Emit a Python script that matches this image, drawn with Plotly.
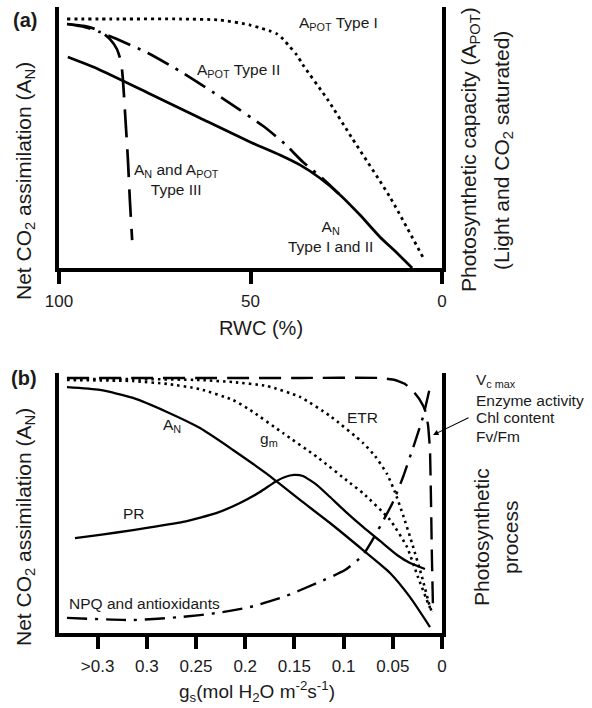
import plotly.graph_objects as go

# ---------------- Panel (a): RWC (%) ----------------
a_type1_rwc = [97.9, 84.1, 68.4, 58.0, 50.1, 47.5, 44.9, 43.1, 41.5, 39.7, 37.9, 36.3, 29.8, 23.5, 13.6, 5.0]
a_type1_val = [95.4, 95.4, 95.4, 95.0, 93.1, 92.0, 90.8, 89.7, 87.7, 84.7, 81.6, 77.8, 64.4, 49.8, 27.2, 4.2]

a_an_rwc = [97.7, 89.3, 76.2, 63.2, 50.1, 42.3, 37.1, 31.9, 26.6, 21.4, 16.2, 12.0, 7.8]
a_an_val = [80.8, 75.9, 66.7, 57.5, 48.3, 43.3, 39.5, 34.5, 28.0, 20.3, 11.9, 6.1, 0.0]

a_type2_rwc = [97.9, 93.2, 89.3, 84.9, 76.8, 67.6, 56.7, 46.7, 41.0, 36.3, 31.3, 26.6]
a_type2_val = [93.5, 92.3, 90.4, 87.7, 82.4, 74.7, 64.4, 54.4, 47.5, 40.6, 34.5, 28.0]

a_type3_rwc = [97.9, 93.2, 89.3, 86.7, 84.9, 83.8, 83.3, 82.8, 82.0, 81.5, 80.9]
a_type3_val = [93.5, 92.7, 90.8, 87.7, 83.9, 78.9, 72.0, 60.5, 41.4, 26.1, 10.7]

a_ticks = [100, 50, 0]
a_ticktext = ["100", "50", "0"]

# ---------------- Panel (b): gs ----------------
b_an_gs = [0.3811, 0.3476, 0.3140, 0.2795, 0.2459, 0.2124, 0.1779, 0.1443, 0.1138, 0.0803, 0.0528, 0.0325, 0.0122]
b_an_val = [94.6, 93.5, 90.4, 85.0, 78.8, 70.4, 61.2, 51.2, 42.3, 31.9, 23.1, 13.8, 2.3]

b_pr_gs = [0.3730, 0.3476, 0.3140, 0.2632, 0.2287, 0.2053, 0.1850, 0.1697, 0.1596, 0.1504, 0.1413,
           0.1270, 0.1138, 0.0986, 0.0803, 0.0630, 0.0457, 0.0325, 0.0173]
b_pr_val = [36.5, 37.7, 39.6, 42.7, 46.2, 50.0, 54.2, 58.1, 60.0, 60.8, 60.4,
            56.9, 52.3, 46.9, 40.8, 35.4, 30.0, 26.9, 24.6]

b_gm_gs = [0.3811, 0.3140, 0.2795, 0.2459, 0.2124, 0.1951, 0.1616, 0.1270, 0.0935, 0.0803,
           0.0528, 0.0356, 0.0244, 0.0142, 0.0102]
b_gm_val = [97.3, 96.9, 95.8, 93.8, 89.6, 85.8, 76.9, 67.7, 57.7, 53.8,
            43.5, 33.1, 21.5, 11.5, 8.1]

b_etr_gs = [0.3811, 0.3140, 0.2459, 0.2124, 0.1779, 0.1443, 0.1138, 0.0803, 0.0681, 0.0559,
            0.0478, 0.0396, 0.0305, 0.0203, 0.0122, 0.0102]
b_etr_val = [97.7, 97.7, 97.3, 96.5, 95.0, 90.8, 83.5, 73.1, 68.1, 61.2,
             54.2, 45.4, 34.6, 21.5, 10.0, 8.1]

b_vc_gs = [0.3811, 0.1443, 0.0630, 0.0478, 0.0376, 0.0295, 0.0224, 0.0173, 0.0142, 0.0122,
           0.0112, 0.0102, 0.0091]
b_vc_val = [98.1, 98.1, 98.1, 97.3, 95.8, 93.1, 89.6, 85.8, 80.0, 70.4,
            51.2, 28.1, 8.8]

b_npq_gs = [0.3811, 0.3140, 0.2632, 0.2287, 0.1951, 0.1616, 0.1270, 0.0986, 0.0803, 0.0661,
            0.0498, 0.0396, 0.0274, 0.0193, 0.0112]
b_npq_val = [5.8, 5.0, 6.2, 7.7, 10.0, 13.8, 19.2, 24.2, 30.0, 38.8,
             50.4, 60.0, 73.5, 83.1, 96.2]

b_ticks = [0.35, 0.3, 0.25, 0.2, 0.15, 0.1, 0.05, 0]
b_ticktext = [">0.3", "0.3", "0.25", "0.2", "0.15", "0.1", "0.05", "0"]

# ---------------- figure ----------------
W, H = 592, 708
ML, MR, MT, MB = 59, 150, 7, 75
PW, PH = W - ML - MR, H - MT - MB
FONT = "Liberation Sans, Arial, Helvetica, sans-serif"
INK = "#1a1a1a"


def P(px, py):
    return (px - ML) / PW, (H - MB - py) / PH


fig = go.Figure()


def add(x, y, dash, width, xa, ya, smooth=0.6, shape="spline"):
    fig.add_trace(go.Scatter(x=x, y=y, mode="lines", xaxis=xa, yaxis=ya,
                             line=dict(color="black", width=width, dash=dash,
                                       shape=shape, smoothing=smooth),
                             hoverinfo="skip", showlegend=False))


# panel (a)
add(a_type1_rwc, a_type1_val, "3px,4px", 2.8, "x", "y", 0.6)
add(a_an_rwc, a_an_val, "solid", 2.7, "x", "y", 0.6)
add(a_type2_rwc, a_type2_val, "24px,8px,3px,8px", 2.7, "x", "y", 0.6)
add(a_type3_rwc, a_type3_val, "28px,12px", 2.7, "x", "y", 0.6)

# panel (b)
add(b_vc_gs, b_vc_val, "22px,10px", 2.4, "x2", "y2", 0.3)
add(b_etr_gs, b_etr_val, "2.5px,4px", 2.6, "x2", "y2", 0.5)
add(b_gm_gs, b_gm_val, "2.5px,4px", 2.6, "x2", "y2", 0.5)
add(b_an_gs, b_an_val, "solid", 2.3, "x2", "y2", 0.6)
add(b_pr_gs, b_pr_val, "solid", 2.3, "x2", "y2", 0.5)
add(b_npq_gs, b_npq_val, "20px,8px,3px,8px", 2.4, "x2", "y2", 0.5)

dom_a = [P(0, 268)[1], 1.0]
dom_b = [0.0, P(0, 373)[1]]

axis_common = dict(showgrid=False, zeroline=False, showline=True, linecolor="black",
                   linewidth=3.5)
xtick = dict(ticks="outside", ticklen=12, tickwidth=3.5, tickcolor="black",
             tickfont=dict(family=FONT, size=17, color=INK), ticklabelstandoff=3)

fig.update_layout(
    width=W, height=H,
    margin=dict(l=ML, r=MR, t=MT, b=MB),
    paper_bgcolor="white", plot_bgcolor="white",
    font=dict(family=FONT, color=INK),
    xaxis=dict(domain=[0, 1], range=[100, 0], tickmode="array", tickvals=a_ticks,
               ticktext=a_ticktext, anchor="y", **axis_common, **xtick),
    yaxis=dict(domain=dom_a, range=[0, 100], showticklabels=False, ticks="",
               mirror=True, anchor="x", **axis_common),
    xaxis2=dict(domain=[0, 1], range=[0.3892, 0], tickmode="array", tickvals=b_ticks,
                ticktext=b_ticktext, anchor="y2", **axis_common, **xtick),
    yaxis2=dict(domain=dom_b, range=[0, 100], showticklabels=False, ticks="",
                mirror=True, anchor="x2", **axis_common),
)

ann = []


def T(text, px, py, size=15.5, xanchor="center", angle=0, align="center"):
    x, y = P(px, py)
    ann.append(dict(text=text, x=x, y=y, xref="paper", yref="paper", showarrow=False,
                    xanchor=xanchor, yanchor="middle", textangle=angle, align=align,
                    borderpad=0, font=dict(family=FONT, size=size, color=INK)))


# panel (a) texts
T("<b>(a)</b>", 25, 20, size=20)
T("A<sub>POT</sub> Type I", 298, 24, xanchor="left")
T("A<sub>POT</sub> Type II", 238, 70)
T("A<sub>N</sub> and A<sub>POT</sub><br>Type III", 176, 179)
T("A<sub>N</sub><br>Type I and II", 330, 236)
T("Net CO<sub>2</sub> assimilation (A<sub>N</sub>)", 25, 181, size=21, angle=-90)
T("Photosynthetic capacity (A<sub>POT</sub>)", 470, 149, size=21, angle=-90)
T("(Light and CO<sub>2</sub> saturated)", 503, 151, size=21, angle=-90)
T("RWC (%)", 261, 328, size=20)

# panel (b) texts
T("<b>(b)</b>", 24, 378, size=20)
T("A<sub>N</sub>", 172, 425)
T("g<sub>m</sub>", 269, 439)
T("ETR", 362, 417)
T("PR", 134, 513)
T("NPQ and antioxidants", 68, 603, xanchor="left")
T("V<sub>c max</sub>", 475, 380, xanchor="left")
T("Enzyme activity", 475, 400, xanchor="left")
T("Chl content", 475, 418, xanchor="left")
T("Fv/Fm", 475, 436, xanchor="left")
T("Photosynthetic", 481, 537, size=21, angle=-90)
T("process", 510, 537, size=21, angle=-90)
T("Net CO<sub>2</sub> assimilation (A<sub>N</sub>)", 25, 527, size=21, angle=-90)
T("g<sub>s</sub>(mol H<sub>2</sub>O m<sup>-2</sup>s<sup>-1</sup>)", 257, 691, size=19)

hx, hy = P(433, 435)
ann.append(dict(text="", x=hx, y=hy, xref="paper", yref="paper", showarrow=True,
                ax=37, ay=-18, arrowhead=2, arrowsize=1, arrowwidth=1.1,
                arrowcolor="black", standoff=0, startstandoff=0))

fig.update_layout(annotations=ann)
fig.write_html("out.html", config={"displayModeBar": False},
               post_script="document.body.style.margin='0px';document.body.style.padding='0px';")
